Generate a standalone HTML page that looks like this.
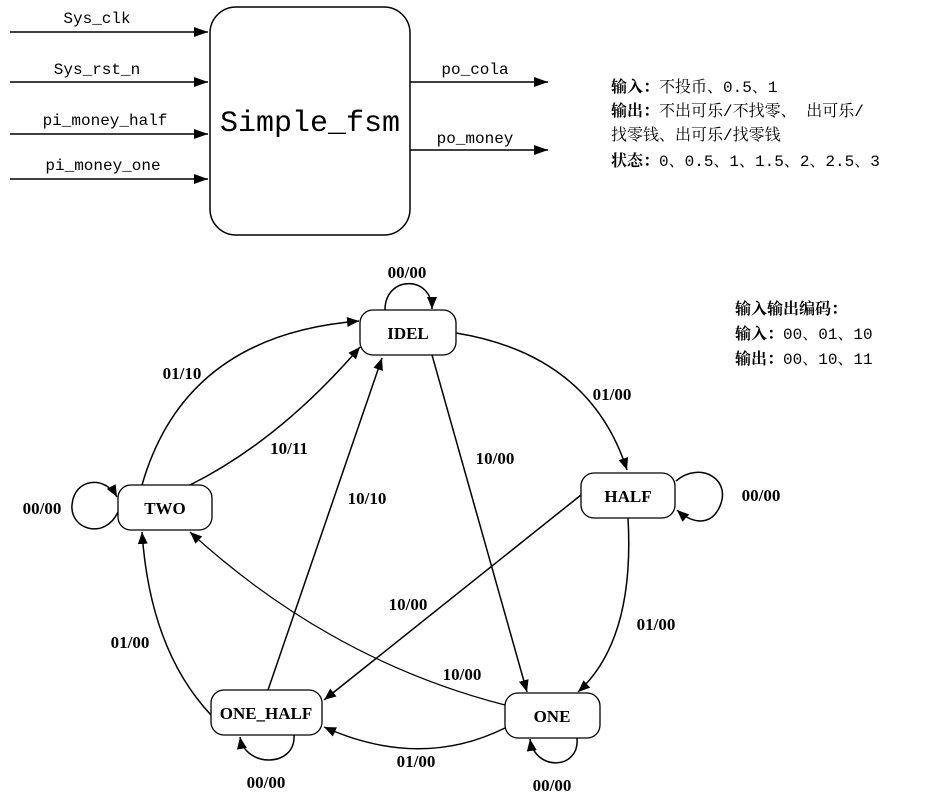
<!DOCTYPE html>
<html><head><meta charset="utf-8"><style>
html,body{margin:0;padding:0;background:#fff;}
svg{display:block;}
.m{font-family:"Liberation Mono","Noto Serif CJK SC",monospace;font-size:16px;}
.b{font-family:"Liberation Serif","Noto Serif CJK SC",serif;font-weight:bold;font-size:17px;}
.n{font-family:"Liberation Serif",serif;font-weight:bold;font-size:17px;}
.c{font-family:"Liberation Mono","Noto Serif CJK SC",monospace;font-size:16px;}
.cb{font-family:"Noto Serif CJK SC",serif;font-weight:bold;font-size:16px;}
</style></head><body>
<svg width="944" height="796" viewBox="0 0 944 796" xmlns="http://www.w3.org/2000/svg">
<defs>
<marker id="a" markerWidth="12" markerHeight="10" refX="12" refY="5" orient="auto" markerUnits="userSpaceOnUse">
<path d="M0,0 L12,5 L0,10 Z" fill="#000"/></marker>
<marker id="s" markerWidth="14" markerHeight="10" refX="14" refY="5" orient="auto" markerUnits="userSpaceOnUse">
<path d="M0,0 L14,5 L0,10 Z" fill="#000"/></marker>
</defs>
<g fill="none" stroke="#000" stroke-width="1.5">
<rect x="210" y="7" width="200" height="228" rx="26"/>
<line x1="10" y1="32" x2="208" y2="32" marker-end="url(#s)"/>
<line x1="10" y1="82" x2="208" y2="82" marker-end="url(#s)"/>
<line x1="10" y1="134" x2="208" y2="134" marker-end="url(#s)"/>
<line x1="10" y1="179" x2="208" y2="179" marker-end="url(#s)"/>
<line x1="410" y1="82" x2="548" y2="82" marker-end="url(#s)"/>
<line x1="410" y1="150" x2="548" y2="150" marker-end="url(#s)"/>
</g>
<g class="m" text-anchor="middle">
<text x="97" y="23">Sys_clk</text>
<text x="97" y="74">Sys_rst_n</text>
<text x="105" y="125">pi_money_half</text>
<text x="103" y="170">pi_money_one</text>
<text x="475" y="74">po_cola</text>
<text x="475" y="143">po_money</text>
</g>
<text x="310" y="131" text-anchor="middle" font-family="Liberation Mono,monospace" font-size="30">Simple_fsm</text>

<text x="611" y="92" class="c"><tspan class="cb">输入：</tspan>不投币、0.5、1</text>
<text x="611" y="116" class="c"><tspan class="cb">输出：</tspan>不出可乐/不找零、 出可乐/</text>
<text x="611" y="140" class="c">找零钱、出可乐/找零钱</text>
<text x="611" y="166" class="c"><tspan class="cb">状态：</tspan>0、0.5、1、1.5、2、2.5、3</text>
<text x="735" y="314" class="cb">输入输出编码：</text>
<text x="735" y="339" class="c"><tspan class="cb">输入：</tspan>00、01、10</text>
<text x="735" y="364" class="c"><tspan class="cb">输出：</tspan>00、10、11</text>

<g fill="#fff" stroke="#000" stroke-width="1.3">
<rect x="360" y="310" width="96" height="45" rx="13"/>
<rect x="118" y="485" width="94" height="45" rx="13"/>
<rect x="581" y="473" width="94" height="45" rx="13"/>
<rect x="211" y="690" width="111" height="45" rx="13"/>
<rect x="505" y="693" width="95" height="45" rx="13"/>
</g>
<g class="n" text-anchor="middle">
<text x="408" y="339">IDEL</text>
<text x="165" y="514">TWO</text>
<text x="628" y="502">HALF</text>
<text x="266" y="719">ONE_HALF</text>
<text x="552" y="722">ONE</text>
</g>
<g fill="none" stroke="#000" stroke-width="1.5">
<path d="M385,310 C385,275 432,275 432,309" marker-end="url(#a)"/>
<path d="M456,333 Q590,355 627,470" marker-end="url(#a)"/>
<path d="M432,355 L527,692" marker-end="url(#a)"/>
<path d="M142,485 Q185,335 359,321" marker-end="url(#a)"/>
<path d="M190,485 Q280,440 360,347" marker-end="url(#a)"/>
<path d="M268,690 L382,358" marker-end="url(#a)"/>
<path d="M676,481 C700,460 735,480 718,510 C708,527 690,522 677,510" marker-end="url(#a)"/>
<path d="M581,495 L324,700" marker-end="url(#a)"/>
<path d="M628,518 Q635,640 578,692" marker-end="url(#a)"/>
<path d="M505,705 Q330,660 190,532" stroke-width="1.2" marker-end="url(#a)"/>
<path d="M505,728 Q420,770 324,727" marker-end="url(#a)"/>
<path d="M577,738 C580,770 535,772 530,739" marker-end="url(#a)"/>
<path d="M294,735 C296,768 245,768 240,737" marker-end="url(#a)"/>
<path d="M211,715 Q150,650 142,532" marker-end="url(#a)"/>
<path d="M118,512 C105,540 70,530 72,505 C74,478 105,475 117,497" marker-end="url(#a)"/>
</g>
<g class="b" text-anchor="middle">
<text x="407" y="278">00/00</text>
<text x="182" y="379">01/10</text>
<text x="289" y="454">10/11</text>
<text x="367" y="504">10/10</text>
<text x="495" y="464">10/00</text>
<text x="612" y="400">01/00</text>
<text x="761" y="501">00/00</text>
<text x="42" y="514">00/00</text>
<text x="408" y="610">10/00</text>
<text x="656" y="630">01/00</text>
<text x="130" y="648">01/00</text>
<text x="462" y="680">10/00</text>
<text x="416" y="767">01/00</text>
<text x="266" y="788">00/00</text>
<text x="552" y="791">00/00</text>
</g>
</svg>
</body></html>
